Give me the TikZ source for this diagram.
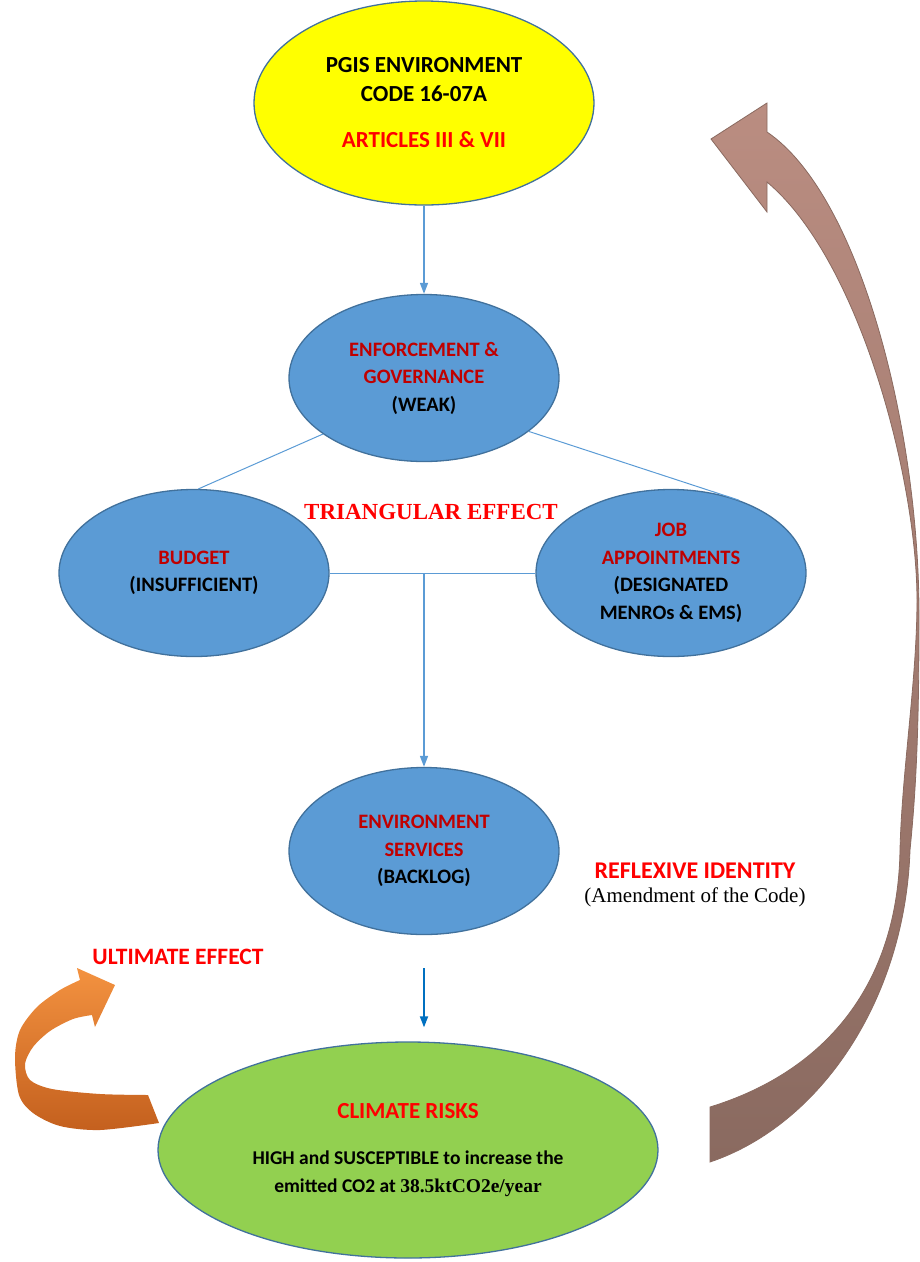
\documentclass[tikz,border=0pt]{standalone}
\usepackage{fontspec}
\setmainfont{Carlito}
\newfontfamily\timesfont{Liberation Serif}
\usepackage{xcolor}
\usetikzlibrary{shapes.geometric,arrows.meta}

\definecolor{bleu}{HTML}{5B9BD5}
\definecolor{bord}{HTML}{41719C}
\definecolor{bleuf}{HTML}{0070C0}
\definecolor{rougef}{HTML}{C00000}
\definecolor{rouge}{HTML}{FF0000}
\definecolor{vert}{HTML}{92D050}
\definecolor{jaune}{HTML}{FFFF00}
\definecolor{brunc}{HTML}{BA8D81}
\definecolor{brunf}{HTML}{8A6A60}
\definecolor{oranc}{HTML}{F39240}
\definecolor{oranf}{HTML}{C4601E}

\begin{document}
\begin{tikzpicture}[x=1pt,y=-1pt,
  bulle/.style={ellipse,draw=bord,line width=1.3pt,fill=bleu,align=center,
    minimum width=270pt,minimum height=167pt,inner sep=0pt,
    font=\bfseries\fontsize{20.5}{27.5}\selectfont},
  lien/.style={bleu,line width=1pt},
  fleche/.style={bleu,line width=1.4pt,-{Triangle[length=11pt,width=8pt]}}]
\useasboundingbox (0,0) rectangle (920,1262);

%ellipses
\node[bulle,fill=jaune,minimum width=340pt,minimum height=204pt,
  font=\bfseries\fontsize{23}{29}\selectfont] (code) at (424,103)
  {PGIS ENVIRONMENT\\CODE 16-07A\\[17pt]\textcolor{rouge}{ARTICLES III \& VII}};
\node[bulle] (enf) at (424,378)
  {\textcolor{rougef}{ENFORCEMENT \&}\\\textcolor{rougef}{GOVERNANCE}\\(WEAK)};
\node[bulle] (bud) at (194,573)
  {\textcolor{rougef}{BUDGET}\\(INSUFFICIENT)};
\node[bulle] (job) at (671,573)
  {\textcolor{rougef}{JOB}\\\textcolor{rougef}{APPOINTMENTS}\\(DESIGNATED\\MENROs \& EMS)};
\node[bulle] (srv) at (424,851)
  {\textcolor{rougef}{ENVIRONMENT}\\\textcolor{rougef}{SERVICES}\\(BACKLOG)};
\node[bulle,fill=vert,minimum width=500pt,minimum height=216pt,
  font=\bfseries\fontsize{19.5}{28}\selectfont] (clim) at (408,1150)
  {\textcolor{rouge}{\fontsize{23}{28}\selectfont CLIMATE RISKS}\\[18pt]
   HIGH and SUSCEPTIBLE to increase the\\emitted CO2 at {\timesfont 38.5ktCO2e/year}};

%textes
\node[font=\timesfont\bfseries\fontsize{23}{28}\selectfont,text=rouge] (tri) at (431,512) {TRIANGULAR EFFECT};
\node[font=\bfseries\fontsize{24}{28}\selectfont,text=rouge,anchor=base] (refl) at (695,878) {REFLEXIVE IDENTITY};
\node[font=\timesfont\fontsize{21}{24}\selectfont,anchor=base] (amend) at (695,902) {(Amendment of the Code)};
\node[font=\bfseries\fontsize{23.5}{28}\selectfont,text=rouge] (ult) at (178,957) {ULTIMATE EFFECT};

%liens
\coordinate (mid) at (424,573);
\draw[fleche] (code.south) -- (enf.north);
\draw[lien] (enf.209) -- (bud.87);
\draw[lien] (enf.333) -- (job.47);
\draw[lien] (bud.east) -- (job.west);
\draw[fleche] (mid) -- (srv.north);
\draw[fleche,bleuf,line width=1.8pt,shorten <=33pt,shorten >=14pt] (srv.south) -- (srv.south |- clim.north);

%grande fleche brune
\shade[top color=brunc,bottom color=brunf,draw=brunf,line width=0.8pt]
  (710,1107) .. controls (830,1070) and (898,980) .. (900,850)
  .. controls (902,770) and (917,680) .. (917,600)
  .. controls (917,480) and (860,260) .. (767,182)
  -- (767,212) -- (711,139) -- (767,103) -- (767,132)
  .. controls (860,195) and (920,430) .. (919,620)
  .. controls (919,730) and (916,790) .. (910,850)
  .. controls (905,1000) and (820,1125) .. (710,1162)
  -- cycle;

%fleche orange
\shade[top color=oranc,bottom color=oranf]
  (80,980) -- (77,968) -- (115,985) -- (95,1027) -- (92,1015)
  -- plot[smooth] coordinates {(92,1015) (73,1019) (50,1031) (33,1047) (25,1064)
    (30,1080) (52,1089) (100,1094) (148,1095)}
  -- (159,1123)
  -- plot[smooth] coordinates {(159,1123) (100,1130) (60,1126) (33,1113) (19,1095)
    (15,1057) (20,1030) (37,1007) (60,990) (80,980)}
  -- cycle;
\end{tikzpicture}
\end{document}
